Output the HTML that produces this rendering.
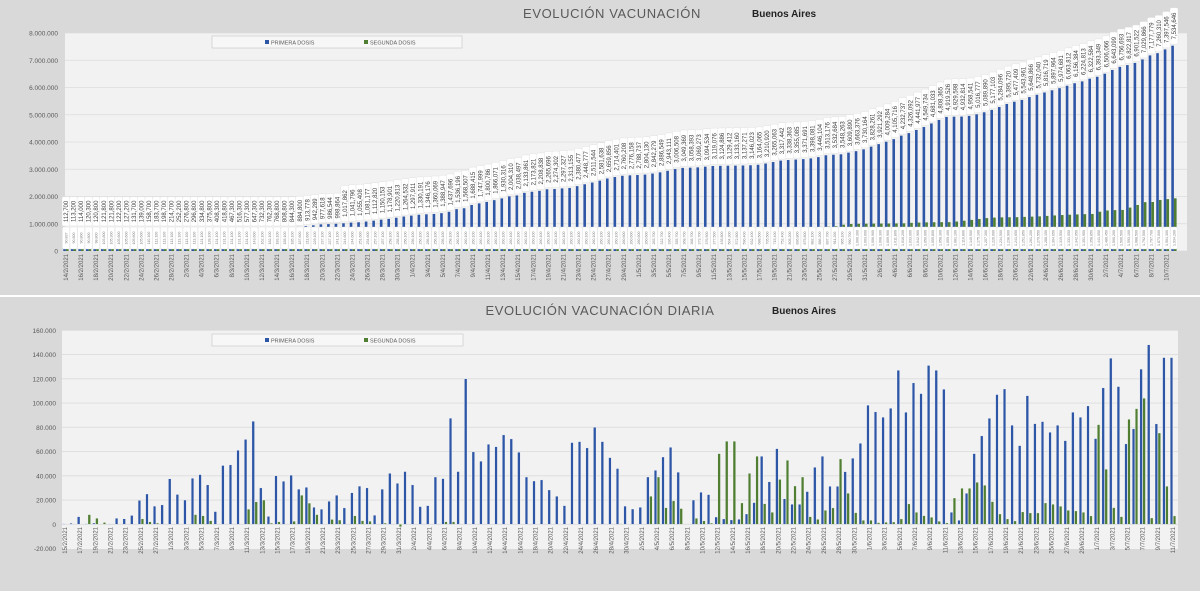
<!DOCTYPE html>
<html><head><meta charset="utf-8">
<style>
html,body{margin:0;padding:0;background:#fff;}
body{width:1200px;height:591px;overflow:hidden;font-family:"Liberation Sans",sans-serif;}
svg text{font-family:"Liberation Sans",sans-serif;}
</style></head>
<body>
<svg id="chart" width="1200" height="591" viewBox="0 0 1200 591" xmlns="http://www.w3.org/2000/svg">
  <rect x="0" y="0" width="1200" height="295" fill="#d9d9d9"/>
  <rect x="0" y="297" width="1200" height="294" fill="#d9d9d9"/>
  <rect x="65" y="33" width="1122" height="218" fill="#f2f2f2"/>
  <rect x="62" y="330" width="1116" height="219" fill="#f2f2f2"/>
  <text x="612" y="18" text-anchor="middle" font-size="13" fill="#595959" letter-spacing="0.6">EVOLUCIÓN VACUNACIÓN</text>
  <text x="752" y="17" font-size="10" font-weight="bold" fill="#222">Buenos Aires</text>
  <text x="600" y="315" text-anchor="middle" font-size="13" fill="#595959" letter-spacing="0.6">EVOLUCIÓN VACUNACIÓN DIARIA</text>
  <text x="772" y="314" font-size="10" font-weight="bold" fill="#222">Buenos Aires</text>
  <g id="topG"></g>
  <g id="botG"></g>
  <g>
    <rect x="212" y="36" width="250" height="12" fill="#f7f7f7" stroke="#d0d0d0" stroke-width="0.8"/>
    <rect x="265" y="40" width="4" height="4" fill="#2e56a6"/>
    <text x="271" y="44.5" font-size="5.5" fill="#595959">PRIMERA DOSIS</text>
    <rect x="364" y="40" width="4" height="4" fill="#507e32"/>
    <text x="370" y="44.5" font-size="5.5" fill="#595959">SEGUNDA DOSIS</text>
  </g>
  <g>
    <rect x="212" y="334" width="251" height="12" fill="#f7f7f7" stroke="#d0d0d0" stroke-width="0.8"/>
    <rect x="265" y="338" width="4" height="4" fill="#2e56a6"/>
    <text x="271" y="342.5" font-size="5.5" fill="#595959">PRIMERA DOSIS</text>
    <rect x="364" y="338" width="4" height="4" fill="#507e32"/>
    <text x="370" y="342.5" font-size="5.5" fill="#595959">SEGUNDA DOSIS</text>
  </g>
</svg>
<script>
// ---------- DATA ----------
const topStart = [2021, 1, 14];   // 14/2/2021
const botStart = [2021, 1, 15];   // 15/2/2021
const topTicks = [0,1000000,2000000,3000000,4000000,5000000,6000000,7000000,8000000];
const botTicks = [-20000,0,20000,40000,60000,80000,100000,120000,140000,160000];

const cumPrimera = [112700,113200,114000,120300,120800,121800,121800,122200,127200,131700,139000,158700,183700,198700,214700,
252200,276800,296800,334800,375800,408300,418800,467300,516300,577300,647300,732300,762300,768800,808800,844300,884800,913778,942289,977618,986544,998864,1017862,1041796,1055408,1081177,1112820,1150153,1178901,1220813,1264532,
1297911,1330191,1346176,1360069,1388947,1437696,1536196,1568507,1688415,1747999,1800786,1866071,1930316,2004310,2038497,2133861,2173821,2208838,2265696,2274302,2297327,2313155,2380477,2448777,2511544,2581638,2659856,2714401,2760208,2776158,
2788737,2804130,2842279,2886549,2943111,3006508,3049369,3058393,3069273,3094534,3119076,3124886,3129412,3133160,3137271,3146023,3164065,3210920,3265063,3317442,3338363,3355085,3371691,3398081,3446104,3513176,3532684,3548263,3609890,3663376,3730164,
3828261,3921292,4009284,4105716,4232737,4326092,4441977,4549734,4681033,4808365,4919526,4929598,4932814,4958541,5016777,5089890,5177103,5284096,5395720,5477409,5543961,5648866,5732040,5816719,5897964,5974681,6063812,6156384,6224813,6322584,6393349,
6506066,6643099,6756693,6822817,6901522,7029866,7177779,7260310,7397546,7534646];

const cumSegunda = [90837,90800,90800,90800,98800,103800,105300,105600,105600,105600,105600,110100,112100,113100,113100,
113100,113100,113100,121100,128100,131100,131100,131100,131100,131100,143600,162100,182100,183100,185100,185100,187600,211600,229100,237100,237100,241100,244600,244600,251600,254600,257100,257100,258100,258100,256100,
256100,256100,256100,256100,256100,258100,260100,260100,260100,260100,260100,260100,260100,260100,260100,260100,260100,260100,260100,260100,260100,260100,260100,260100,260100,260100,260100,260100,260600,260600,
260600,260600,283700,322700,336400,355700,368700,368700,373700,376500,377500,435800,504300,572800,590400,632400,688500,705500,715400,752400,805200,836800,875800,882100,886200,897700,911200,965100,990700,1000300,1003600,
1006900,1008300,1009900,1011800,1016200,1033000,1042900,1050000,1055800,1058300,1059400,1081100,1110800,1140500,1175100,1207300,1226000,1234500,1238900,1241650,1251850,1261200,1270550,1288150,1304650,1319550,1331050,1342050,1351950,1358850,
1441050,1486450,1500200,1506500,1593100,1688500,1792500,1797700,1873000,1904300,1934200];

const dailyPrimera = [500,800,6300,500,1000,0,400,5000,4500,7300,19700,25000,15000,16000,
37500,24600,20000,38000,41000,32500,10500,48500,49000,61000,70000,85000,30000,6500,40000,35500,40500,29000,30500,14000,12500,19000,24000,13500,26000,31500,30000,7500,29000,42000,33800,
43500,32500,14600,15400,39000,37700,87500,43500,120000,59700,52000,66000,64000,73700,70400,59400,39000,35700,36600,28300,23100,15400,67400,68200,63000,80000,68200,55000,46000,15000,
12600,14000,39000,44500,55500,63500,43000,0,20000,26400,24500,6000,4400,3600,4100,8500,17900,56100,35000,62400,21000,16500,16500,27000,47000,56100,31300,31300,43400,54500,66800,
98200,92700,88300,95700,127000,92400,116600,107800,131000,127000,111400,9900,3300,25600,58300,72900,87400,107000,111600,81700,64900,106100,83000,84700,75900,81700,69000,92400,88300,97600,
70700,112500,137000,113600,66300,78700,128000,148000,82800,137500,137500];

const dailySegunda = [0,0,0,8000,5000,1500,300,0,0,0,4500,2000,1000,0,
0,0,0,8000,7000,3000,0,0,0,0,12500,18500,20000,1000,2000,0,2500,24000,17500,8000,0,4000,3500,0,7000,3000,2500,0,1000,0,-2000,
0,0,0,0,0,2000,2000,0,0,0,0,0,0,0,0,0,0,0,0,0,0,0,0,0,0,0,0,0,500,0,
0,0,23100,39000,13700,19300,13000,0,5000,2800,1000,58300,68500,68500,17600,42000,56100,17000,9900,37000,52800,31600,39000,6300,4100,11500,13500,53900,25600,9600,3300,
3300,1400,1600,1900,4400,16800,9900,7100,5800,2500,1100,21700,29700,29700,34600,32200,18700,8500,4400,2750,10200,9350,9350,17600,16500,14900,11500,11000,9900,6900,
82200,45400,13750,6300,86600,95400,104000,5200,75300,31300,6900];

function makeDates(start, n){
  const out=[]; const d=new Date(start[0],start[1],start[2]);
  for(let i=0;i<n;i++){ out.push(d.getDate()+'/'+(d.getMonth()+1)+'/'+d.getFullYear()); d.setDate(d.getDate()+1); }
  return out;
}
const topDates = makeDates(topStart, cumPrimera.length);
const botDates = makeDates(botStart, dailyPrimera.length);

// ---------- HELPERS ----------
const NS='http://www.w3.org/2000/svg';
function mk(tag, attrs, parent){ const e=document.createElementNS(NS,tag); for(const k in attrs) e.setAttribute(k,attrs[k]); parent.appendChild(e); return e; }
const dotFmt = v => { const s=Math.abs(v).toString().replace(/\B(?=(\d{3})+(?!\d))/g,'.'); return (v<0?'-':'')+s; };
const comFmt = v => v.toString().replace(/\B(?=(\d{3})+(?!\d))/g,',');
const BLUE='#2e56a6', GREEN='#507e32';

// ---------- TOP CHART ----------
const topG=document.getElementById('topG');
const tX0=66, tX1=1174, tYb=251, tYt=33, tMax=8000000;
const tStep=(tX1-tX0)/(cumPrimera.length-1);
const tx=i=>tX0+i*tStep;
const ty=v=>tYb-v/tMax*(tYb-tYt);
topTicks.forEach(t=>{
  const g=mk('line',{x1:65,x2:1187,y1:ty(t),y2:ty(t),stroke:'#dcdcdc','stroke-width':0.8},topG);
  
  
  const l=mk('text',{x:58,y:ty(t)+2.5,'text-anchor':'end','font-size':6.5,fill:'#595959'},topG);
  
  
  l.textContent=dotFmt(t);
});
cumPrimera.forEach((v,i)=>{
  const c=tx(i);
  const b=mk('rect',{x:c-2.7,y:ty(v),width:2.6,height:tYb-ty(v),fill:BLUE},topG);
  
  
  const s=cumSegunda[i];
  const g=mk('rect',{x:c,y:ty(s),width:2.6,height:tYb-ty(s),fill:GREEN},topG);
  
  
});
// second dose labels row
cumSegunda.forEach((v,i)=>{
  const c=tx(i); const h=22;
  const r=mk('rect',{x:c-3.6,y:249-h,width:7.2,height:h,rx:1.5,fill:'#fff',stroke:'#e0e0e0','stroke-width':0.4},topG);
  
  
  const t=mk('text',{x:0,y:0,'font-size':3.6,fill:'#7f7f7f','text-anchor':'middle',transform:`translate(${c+1.3},${249-h/2}) rotate(-90)`},topG);
  
  
  t.textContent=comFmt(v);
});
// first dose labels
cumPrimera.forEach((v,i)=>{
  const c=tx(i); const txt=comFmt(v); const h=txt.length*3.6+4;
  const bottom=Math.min(ty(v)-1.5,226);
  const r=mk('rect',{x:c-4,y:bottom-h,width:8,height:h,rx:1.5,fill:'#fff',stroke:'#dadada','stroke-width':0.4},topG);
  
  
  const t=mk('text',{x:0,y:0,'font-size':6,fill:'#404040','text-anchor':'middle',transform:`translate(${c+2.1},${bottom-h/2}) rotate(-90)`},topG);
  
  
  t.textContent=txt;
});
topDates.forEach((d,i)=>{
  if(i%2) return;
  const t=mk('text',{x:0,y:0,'font-size':6,fill:'#595959','text-anchor':'end',transform:`translate(${tx(i)+2},${254}) rotate(-90)`},topG);
  
  
  t.textContent=d;
});

// ---------- BOTTOM CHART ----------
const botG=document.getElementById('botG');
const bX0=65, bX1=1173, bY0=524.3, bPx=24.25/20000;
const bStep=(bX1-bX0)/(dailyPrimera.length-1);
const bx=i=>bX0+i*bStep;
const by=v=>bY0-v*bPx;
botTicks.forEach(t=>{
  if(t!==-20000){
    const g=mk('line',{x1:62,x2:1178,y1:by(t),y2:by(t),stroke:'#dcdcdc','stroke-width':0.8},botG);
    
    
  }
  const l=mk('text',{x:56,y:by(t)+2.5,'text-anchor':'end','font-size':6.5,fill:'#595959'},botG);
  
  
  l.textContent=dotFmt(t);
});
dailyPrimera.forEach((v,i)=>{
  const c=bx(i);
  const y1=Math.min(by(v),bY0), h=Math.abs(by(v)-bY0);
  const b=mk('rect',{x:c-2.8,y:y1,width:2.6,height:h,fill:BLUE,stroke:'#fff','stroke-width':0.3},botG);
  
  
  const s=dailySegunda[i];
  const gy=Math.min(by(s),bY0), gh=Math.abs(by(s)-bY0);
  const g=mk('rect',{x:c+0.2,y:gy,width:2.6,height:gh,fill:GREEN,stroke:'#fff','stroke-width':0.3},botG);
  
  
});
botDates.forEach((d,i)=>{
  if(i%2) return;
  const t=mk('text',{x:0,y:0,'font-size':6,fill:'#595959','text-anchor':'end',transform:`translate(${bx(i)+2},${527}) rotate(-90)`},botG);
  
  
  t.textContent=d;
});
</script>
</body></html>
